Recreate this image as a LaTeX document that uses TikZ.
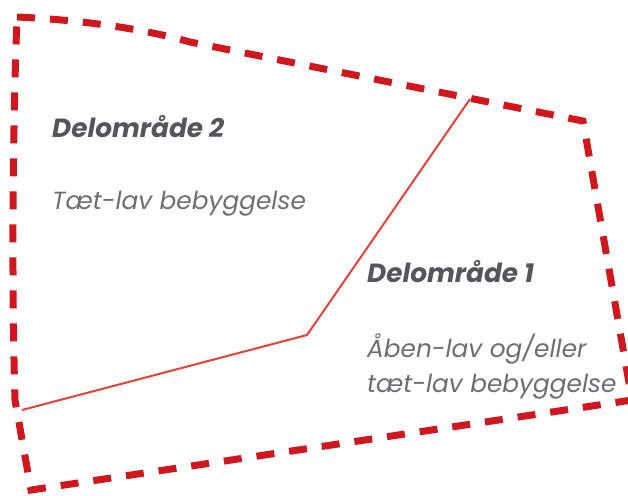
\documentclass[tikz,border=0pt]{standalone}
\usepackage{fontspec}
\setmainfont{Poppins}
\definecolor{bordred}{HTML}{D2161E}
\definecolor{linered}{HTML}{E8403A}
\definecolor{headgrey}{HTML}{55565A}
\definecolor{bodygrey}{HTML}{6D6E71}
\begin{document}
\begin{tikzpicture}[x=1pt,y=-1pt,
  border/.style={draw=bordred,line width=7pt,dash pattern=on 18pt off 15pt},
  divide/.style={draw=linered,line width=2pt},
  head/.style={anchor=base west,inner sep=0pt,text=headgrey,font=\fontsize{26.3}{30}\selectfont\bfseries\itshape},
  body/.style={anchor=base west,inner sep=0pt,text=bodygrey,font=\fontsize{24.8}{35}\selectfont\itshape,align=left}]
\useasboundingbox (0,0) rectangle (628,495);
\coordinate (c1) at (17,17);
\coordinate (c2) at (583,121);
\coordinate (c3) at (632,400);
\coordinate (c4) at (31,490);
\coordinate (d1) at (22,410);
\coordinate (d2) at (307,335);
\coordinate (d3) at (470,99);
\draw[border] (c1) .. controls (80,20) and (140,28) .. (190,42) -- (c2) -- (c3) -- (c4) -- (15,400) .. controls (12,300) and (12,150) .. cycle;
\draw[divide] (d1) -- (d2) -- (d3);
\node[head] (h2) at (52,137) {Delområde 2};
\node[body] (b2) at (52,209) {Tæt-lav bebyggelse};
\node[head] (h1) at (367,282) {Delområde 1};
\node[body] (b1) at (367,357) {Åben-lav og/eller};
\node[body] (b1b) at (367,392) {tæt-lav bebyggelse};
\end{tikzpicture}
\end{document}
